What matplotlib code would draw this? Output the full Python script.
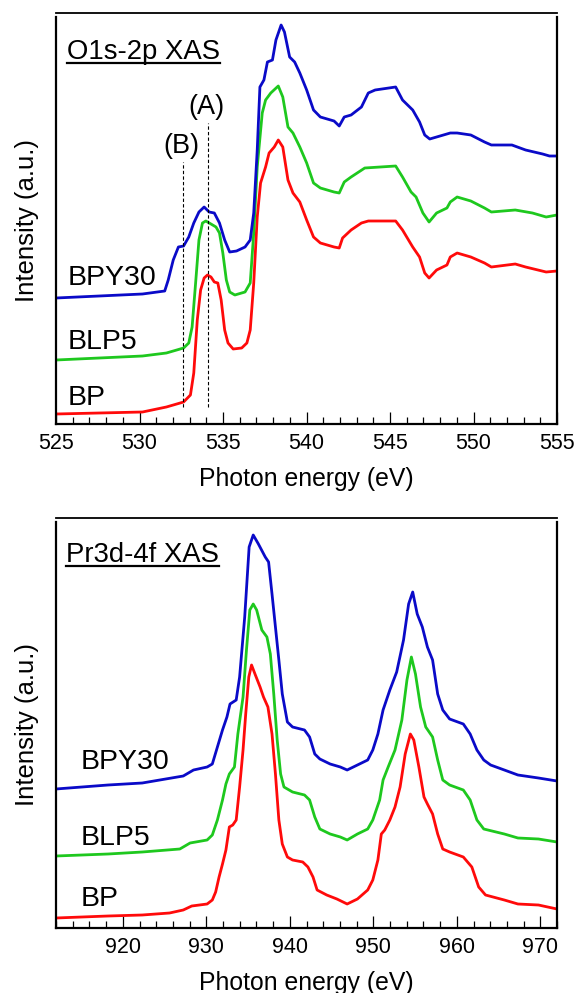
import matplotlib
matplotlib.use("Agg")
import matplotlib.pyplot as plt
from matplotlib.lines import Line2D
from matplotlib.ticker import MultipleLocator

plt.rcParams['font.family'] = ['Liberation Sans', 'DejaVu Sans']

# O1s-2p XAS (top panel), intensities in arbitrary units
o_e_bp = [525.0, 530.18, 531.61, 532.23, 532.64, 533.05, 533.25, 533.46, 533.66, 533.87,
          534.07, 534.28, 534.48, 534.69, 534.89, 535.10, 535.30, 535.61, 536.12, 536.43,
          536.63, 536.84, 537.05, 537.25, 537.55, 537.76, 538.07, 538.31, 538.58, 538.89,
          539.19, 539.60, 540.01, 540.42, 540.83, 541.65, 541.96, 542.16, 542.67, 543.29,
          543.70, 545.34, 545.75, 546.36, 546.77, 547.08, 547.34, 547.79, 548.41, 548.61,
          549.02, 549.84, 550.66, 551.07, 552.50, 553.12, 554.35, 555.0]
o_bp = [10, 12, 17, 20, 22, 29, 51, 104, 134, 146,
        149, 147, 142, 141, 124, 94, 81, 75, 76, 81,
        94, 141, 207, 241, 257, 271, 277, 284, 277, 244,
        231, 222, 204, 187, 181, 177, 176, 186, 194, 201,
        203, 203, 194, 177, 167, 151, 146, 154, 159, 167,
        171, 167, 161, 157, 160, 157, 152, 153]

o_e_blp5 = [525.0, 530.18, 531.61, 532.23, 532.64, 532.95, 533.15, 533.36, 533.56, 533.77,
            533.97, 534.28, 534.58, 534.79, 534.99, 535.20, 535.40, 535.71, 536.32, 536.63,
            536.84, 537.05, 537.35, 537.55, 537.86, 538.31, 538.58, 538.89, 539.19, 539.60,
            540.01, 540.42, 540.83, 541.65, 541.96, 542.26, 542.67, 543.49, 545.34, 545.75,
            546.26, 546.56, 546.97, 547.34, 547.79, 548.41, 548.61, 549.02, 549.84, 550.66,
            551.07, 552.50, 553.53, 554.35, 555.0]
o_blp5 = [64, 68, 71, 74, 76, 81, 97, 141, 184, 201,
          203, 200, 197, 191, 171, 144, 132, 129, 132, 141,
          191, 257, 311, 324, 331, 338, 327, 297, 291, 277,
          261, 241, 236, 232, 231, 242, 247, 256, 258, 247,
          232, 227, 211, 202, 211, 216, 222, 227, 223, 216,
          212, 214, 211, 207, 209]

o_e_bpy30 = [525.0, 530.18, 531.51, 531.72, 532.02, 532.33, 532.64, 532.95, 533.25, 533.56,
             533.87, 534.17, 534.48, 534.79, 535.10, 535.40, 535.81, 536.32, 536.63, 536.84,
             537.05, 537.21, 537.45, 537.66, 537.96, 538.17, 538.48, 538.68, 538.99, 539.29,
             539.60, 540.01, 540.42, 540.83, 541.65, 541.96, 542.26, 542.67, 543.29, 543.70,
             544.11, 545.34, 545.75, 546.36, 546.77, 547.08, 547.38, 547.79, 548.61, 549.02,
             549.84, 550.66, 551.07, 552.30, 553.12, 554.14, 554.55, 555.0]
o_bpy30 = [126, 130, 133, 144, 164, 177, 178, 187, 201, 212,
           217, 212, 211, 201, 184, 172, 173, 177, 184, 211,
           274, 337, 344, 362, 364, 384, 399, 392, 367, 362,
           351, 334, 314, 307, 303, 298, 307, 309, 317, 331,
           334, 337, 324, 314, 302, 289, 285, 287, 291, 291,
           289, 282, 279, 279, 274, 270, 268, 268]

# Pr3d-4f XAS (bottom panel)
pr_e_bp = [911.98, 918.24, 922.33, 925.60, 927.24, 928.26, 930.10, 930.72, 931.12, 931.53,
           931.94, 932.35, 932.76, 933.17, 933.58, 933.99, 934.40, 934.72, 935.09, 935.42,
           935.83, 936.44, 936.85, 937.38, 937.87, 938.28, 938.69, 939.10, 939.71, 940.33,
           941.55, 942.17, 942.78, 943.27, 944.42, 945.64, 946.87, 948.10, 949.33, 949.94,
           950.55, 950.96, 951.37, 951.98, 952.60, 953.21, 953.82, 954.44, 954.85, 955.46,
           956.07, 956.48, 957.10, 957.71, 958.32, 959.14, 960.78, 961.80, 962.62, 963.44,
           965.69, 967.32, 969.78, 972.0]
pr_bp = [10, 12, 13, 15, 18, 22, 24, 28, 36, 51,
         64, 78, 101, 103, 108, 141, 178, 214, 251, 263,
         254, 241, 231, 221, 194, 154, 108, 84, 71, 68,
         66, 61, 51, 38, 33, 29, 24, 29, 38, 48,
         68, 94, 98, 108, 121, 141, 174, 194, 188, 161,
         131, 124, 114, 94, 79, 76, 71, 61, 41, 33,
         28, 24, 23, 19]

pr_e_blp5 = [911.98, 918.24, 922.33, 926.83, 928.06, 930.10, 930.72, 931.33, 931.94, 932.35,
             932.76, 933.37, 933.78, 934.40, 934.81, 935.21, 935.62, 936.03, 936.65, 937.26,
             937.67, 938.08, 938.49, 938.90, 939.30, 940.33, 941.76, 942.37, 942.99, 943.60,
             944.83, 946.05, 946.87, 948.10, 949.33, 949.94, 950.76, 951.17, 951.78, 952.60,
             953.42, 954.03, 954.56, 955.05, 955.66, 956.28, 957.10, 957.71, 958.32, 959.14,
             960.78, 961.60, 962.41, 963.23, 965.69, 967.32, 969.78, 972.0]
pr_blp5 = [72, 74, 76, 79, 85, 88, 93, 108, 128, 144,
           154, 161, 194, 231, 278, 318, 324, 318, 298, 291,
           274, 234, 188, 154, 141, 136, 133, 128, 111, 99,
           94, 91, 88, 94, 99, 108, 128, 148, 161, 178,
           208, 248, 271, 254, 221, 201, 191, 168, 148, 143,
           138, 128, 108, 99, 94, 90, 89, 86]

pr_e_bpy30 = [911.98, 918.24, 922.33, 927.24, 928.47, 930.10, 930.72, 931.33, 931.94, 932.47,
              932.84, 933.58, 933.99, 934.60, 935.13, 935.62, 936.24, 937.06, 937.46, 937.87,
              938.28, 938.69, 939.10, 939.71, 940.33, 941.76, 942.37, 942.99, 943.60, 944.83,
              946.05, 946.87, 948.10, 949.33, 949.94, 950.55, 951.17, 951.98, 952.80, 953.62,
              954.23, 954.72, 955.26, 955.87, 956.48, 957.10, 957.71, 958.32, 959.14, 960.78,
              961.60, 962.41, 963.23, 964.05, 965.69, 967.32, 969.78, 972.0]
pr_bpy30 = [139, 143, 145, 152, 158, 161, 164, 181, 198, 211,
            224, 228, 251, 311, 381, 393, 384, 371, 366, 334,
            301, 268, 234, 206, 201, 198, 191, 174, 169, 164,
            161, 158, 163, 168, 178, 194, 218, 238, 256, 288,
            324, 336, 314, 301, 281, 268, 234, 218, 209, 204,
            194, 178, 168, 163, 158, 153, 150, 147]

sample_names = ["BPY30", "BLP5", "BP"]
o_label_y = [146, 82, 26]
pr_label_y = [166, 90, 29]
# (A) and (B) features in the O1s spectrum
marker_names = ["(A)", "(B)"]
marker_e = [534.1, 532.6]
marker_top = [301, 262]

BLUE = "#0a0ac8"
GREEN = "#1ec81e"
RED = "#ff0a0a"

fig = plt.figure(figsize=(5.76, 9.93), dpi=100)
ax1 = fig.add_axes([56 / 576, 1 - 424 / 993, 501 / 576, 407 / 993])
ax2 = fig.add_axes([56 / 576, 1 - 928 / 993, 501 / 576, 406 / 993])


def style_axis(ax, xmin, xmax, major, minor):
    ax.set_xlim(xmin, xmax)
    ax.xaxis.set_major_locator(MultipleLocator(major))
    ax.xaxis.set_minor_locator(MultipleLocator(minor))
    ax.tick_params(axis="x", which="major", direction="in", length=9, width=0.9,
                   labelsize=15.5, pad=6.5, top=False)
    ax.tick_params(axis="x", which="minor", direction="in", length=5, width=0.9, top=False)
    ax.tick_params(axis="y", left=False, labelleft=False)
    for s in ["left", "right", "bottom"]:
        ax.spines[s].set_linewidth(1.6)
    ax.spines["top"].set_linewidth(1.3)
    ax.spines["top"].set_position(("outward", 3))
    ax.set_xlabel("Photon energy (eV)", fontsize=17.8, labelpad=9)
    ax.set_ylabel("Intensity (a.u.)", fontsize=18.5, labelpad=12)


style_axis(ax1, 525, 555, 5, 1)
ax1.set_ylim(0, 407)
ax1.plot(o_e_bp, o_bp, color=RED, lw=2.0)
ax1.plot(o_e_blp5, o_blp5, color=GREEN, lw=2.0)
ax1.plot(o_e_bpy30, o_bpy30, color=BLUE, lw=2.0)
for name, e, top in zip(marker_names, marker_e, marker_top):
    ax1.plot([e, e], [17, top], color="black", lw=0.8, ls=(0, (3, 2)))
    ax1.text(e - 0.1, top + 16, name, fontsize=19.5, ha="center", va="center")
for name, y in zip(sample_names, o_label_y):
    ax1.text(525.7, y, name, fontsize=20.5, ha="left", va="center")

style_axis(ax2, 912, 972, 10, 2)
ax2.set_ylim(0, 406)
ax2.plot(pr_e_bp, pr_bp, color=RED, lw=2.0)
ax2.plot(pr_e_blp5, pr_blp5, color=GREEN, lw=2.0)
ax2.plot(pr_e_bpy30, pr_bpy30, color=BLUE, lw=2.0)
for name, y in zip(sample_names, pr_label_y):
    ax2.text(915.0, y, name, fontsize=20.5, ha="left", va="center")

t1 = ax1.text(0.022, 0.8956, "O1s-2p XAS", fontsize=19.8, transform=ax1.transAxes,
              ha="left", va="baseline")
t2 = ax2.text(0.020, 0.902, "Pr3d-4f XAS", fontsize=19.8, transform=ax2.transAxes,
              ha="left", va="baseline")

# underline the panel titles
fig.canvas.draw()
renderer = fig.canvas.get_renderer()
for ax, t, uy in [(ax1, t1, 0.887), (ax2, t2, 0.892)]:
    bb = t.get_window_extent(renderer).transformed(ax.transAxes.inverted())
    ax.add_line(Line2D([bb.x0, bb.x1], [uy, uy], transform=ax.transAxes,
                       color="black", lw=1.6))

fig.savefig("out.png", dpi=100)
